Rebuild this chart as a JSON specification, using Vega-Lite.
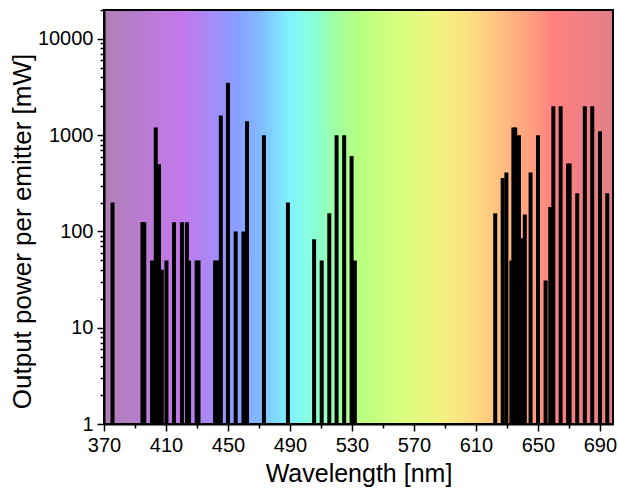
{
  "$schema": "https://vega.github.io/schema/vega-lite/v6.json",
  "width": 509,
  "height": 414,
  "autosize": {"type": "none"},
  "padding": {"left": 104, "top": 10, "right": 5, "bottom": 66},
  "background": "white",
  "config": {
    "font": "Liberation Sans",
    "view": {
      "stroke": "black",
      "strokeWidth": 2,
      "fill": {
        "gradient": "linear",
        "x1": 0, "y1": 0, "x2": 1, "y2": 0,
        "stops": [
          {"offset": 0, "color": "#b07fb4"},
          {"offset": 0.076, "color": "#b87cd0"},
          {"offset": 0.152, "color": "#c478ec"},
          {"offset": 0.213, "color": "#a48cf6"},
          {"offset": 0.259, "color": "#8a9cff"},
          {"offset": 0.304, "color": "#80b8ff"},
          {"offset": 0.365, "color": "#80f4ff"},
          {"offset": 0.411, "color": "#88ffd8"},
          {"offset": 0.457, "color": "#a0ffa0"},
          {"offset": 0.502, "color": "#b8ff80"},
          {"offset": 0.578, "color": "#d8ff80"},
          {"offset": 0.654, "color": "#f0f480"},
          {"offset": 0.715, "color": "#fde080"},
          {"offset": 0.776, "color": "#ffc080"},
          {"offset": 0.837, "color": "#ffa080"},
          {"offset": 0.883, "color": "#ff8080"},
          {"offset": 1, "color": "#e08088"}
        ]
      }
    },
    "axis": {
      "domainColor": "black",
      "domainWidth": 2,
      "tickColor": "black",
      "tickWidth": 1.5,
      "labelColor": "black",
      "labelFont": "Liberation Sans",
      "labelFontSize": 20,
      "titleFont": "Liberation Sans",
      "titleFontWeight": "normal",
      "titleColor": "black",
      "grid": false
    }
  },
  "data": {
    "values": [
      {"wavelength": 375.5, "power": 200},
      {"wavelength": 394.8, "power": 125},
      {"wavelength": 396.0, "power": 125},
      {"wavelength": 401.0, "power": 50},
      {"wavelength": 403.4, "power": 1200},
      {"wavelength": 405.5, "power": 500},
      {"wavelength": 407.3, "power": 40},
      {"wavelength": 410.3, "power": 50},
      {"wavelength": 415.2, "power": 125},
      {"wavelength": 420.3, "power": 125},
      {"wavelength": 423.5, "power": 125},
      {"wavelength": 424.9, "power": 50},
      {"wavelength": 429.8, "power": 50},
      {"wavelength": 431.0, "power": 50},
      {"wavelength": 441.7, "power": 50},
      {"wavelength": 443.0, "power": 50},
      {"wavelength": 445.4, "power": 1600},
      {"wavelength": 450.0, "power": 3500},
      {"wavelength": 455.0, "power": 100},
      {"wavelength": 460.0, "power": 100},
      {"wavelength": 462.3, "power": 1400},
      {"wavelength": 473.2, "power": 1000},
      {"wavelength": 488.7, "power": 200},
      {"wavelength": 505.6, "power": 83},
      {"wavelength": 510.5, "power": 50},
      {"wavelength": 515.4, "power": 155},
      {"wavelength": 520.1, "power": 1000},
      {"wavelength": 525.0, "power": 1000},
      {"wavelength": 529.8, "power": 610},
      {"wavelength": 531.9, "power": 50},
      {"wavelength": 622.5, "power": 155},
      {"wavelength": 627.3, "power": 360},
      {"wavelength": 629.7, "power": 410},
      {"wavelength": 632.9, "power": 50},
      {"wavelength": 634.2, "power": 1200},
      {"wavelength": 635.4, "power": 1200},
      {"wavelength": 637.8, "power": 1000},
      {"wavelength": 639.8, "power": 85},
      {"wavelength": 641.6, "power": 150},
      {"wavelength": 645.3, "power": 410},
      {"wavelength": 650.1, "power": 1000},
      {"wavelength": 655.0, "power": 31},
      {"wavelength": 658.0, "power": 180},
      {"wavelength": 660.0, "power": 2000},
      {"wavelength": 664.7, "power": 2000},
      {"wavelength": 669.5, "power": 510},
      {"wavelength": 670.5, "power": 510},
      {"wavelength": 675.4, "power": 250},
      {"wavelength": 680.3, "power": 2000},
      {"wavelength": 685.1, "power": 2000},
      {"wavelength": 690.1, "power": 1100},
      {"wavelength": 694.8, "power": 250}
    ]
  },
  "mark": {"type": "bar", "size": 4, "color": "black", "clip": true},
  "encoding": {
    "x": {
      "field": "wavelength",
      "type": "quantitative",
      "title": "Wavelength [nm]",
      "scale": {"domain": [370, 698.5], "nice": false, "zero": false, "padding": 0},
      "axis": {
        "values": [370, 390, 410, 430, 450, 470, 490, 510, 530, 550, 570, 590, 610, 630, 650, 670, 690],
        "labelExpr": "(datum.value - 370) % 40 == 0 ? datum.label : ''",
        "tickSize": {"condition": {"test": "(datum.value - 370) % 40 == 0", "value": 7}, "value": 4},
        "labelPadding": 4,
        "labelFlush": false,
        "labelOverlap": false,
        "titleFontSize": 25,
        "titlePadding": 6
      }
    },
    "y": {
      "field": "power",
      "type": "quantitative",
      "title": "Output power per emitter [mW]",
      "scale": {"type": "log", "domain": [1, 20000], "nice": false, "padding": 0},
      "axis": {
        "values": [1, 2, 3, 4, 5, 6, 7, 8, 9, 10, 20, 30, 40, 50, 60, 70, 80, 90, 100, 200, 300, 400, 500, 600, 700, 800, 900, 1000, 2000, 3000, 4000, 5000, 6000, 7000, 8000, 9000, 10000, 20000],
        "format": "d",
        "labelExpr": "indexof(['1','10','100','1000','10000'], datum.label) >= 0 ? datum.label : ''",
        "tickSize": {"condition": {"test": "indexof([1,10,100,1000,10000], datum.value) >= 0", "value": 7}, "value": 4},
        "labelPadding": 4,
        "labelFlush": false,
        "labelOverlap": false,
        "titleFontSize": 26,
        "titlePadding": 2,
        "titleY": 221
      }
    },
    "y2": {"datum": 1}
  }
}
